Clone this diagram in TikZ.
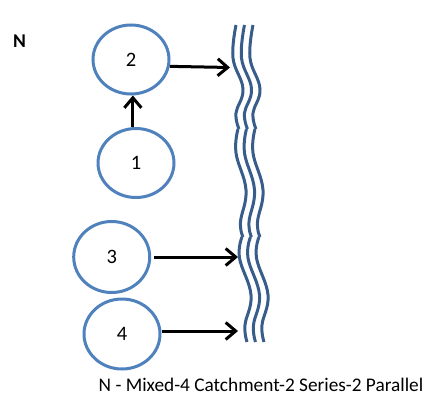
\documentclass[tikz,border=0pt]{standalone}
\usepackage{fontspec}
\setmainfont{Carlito}
\usetikzlibrary{shapes.geometric,arrows.meta}
\definecolor{pondblue}{RGB}{79,129,189}
\definecolor{riverblue}{RGB}{56,93,138}
\begin{document}
\begin{tikzpicture}[x=1pt,y=-1pt,
        catch/.style={draw=pondblue,line width=3pt,ellipse,minimum width=76pt,minimum height=69pt,inner sep=0pt,font=\fontsize{20.5}{24}\selectfont},
        flow/.style={draw=black,line width=3pt,-{Straight Barb[length=10pt,width=17pt]}},
        river/.style={riverblue,line width=3pt}]
        \useasboundingbox (0,0) rectangle (443,412);
        \node[anchor=base west,inner sep=0pt,font=\fontsize{19.5}{22}\selectfont\bfseries] (lbl) at (13,47.3) {N};

        % catchments
        \node[catch] (n2) at (131,59.5) {2};
        \node[catch] (n1) at (136,163) {1};
        \node[catch,minimum height=71pt] (n3) at (111.7,257) {3};
        \node[catch,minimum height=70pt] (n4) at (122,334) {4};

        % river, three wavy lines
        \foreach \dx in {0,8.5,17} {
                \begin{scope}[shift={(\dx,0)}]
                        \draw[river] plot[smooth,tension=0.7] coordinates {(236,25) (233,58) (243,89) (236,113) (239,129)};
                        \draw[river] plot[smooth,tension=0.7] coordinates {(238,129) (236,153) (246,190) (240.5,222) (243,237)};
                        \draw[river] plot[smooth,tension=0.7] coordinates {(242,237) (239.5,258) (251,295) (245,325) (247,342)};
                \end{scope}
        }
        \coordinate (r2) at (230,67.5);
        \coordinate (r3) at (238,257);
        \coordinate (r4) at (238,331);

        % flows
        \draw[flow] (n1.95) -- (n1.95 |- n2.south);
        \draw[flow] (n2.-10) -- (r2);
        \draw[flow,shorten <=3pt] (n3.east) -- (r3);
        \draw[flow] (n4.east |- r4) -- (r4);

        \node[anchor=base west,inner sep=0pt,font=\fontsize{19.3}{22}\selectfont] (cap) at (98.5,391.7) {N - Mixed-4 Catchment-2 Series-2 Parallel};
\end{tikzpicture}
\end{document}
